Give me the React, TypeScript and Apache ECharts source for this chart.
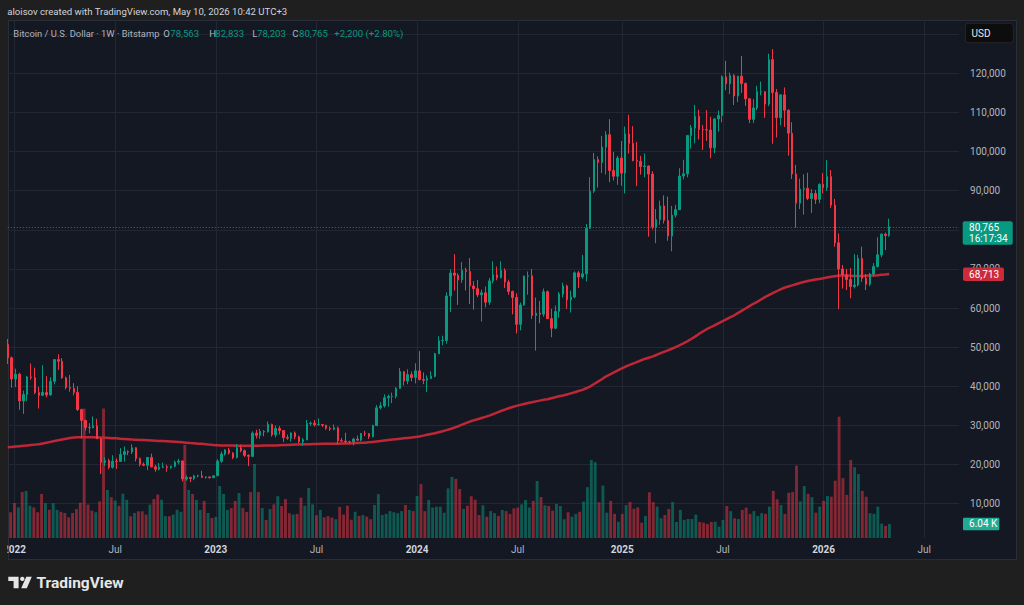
import React, { useEffect, useRef } from "react";
import * as echarts from "echarts";

// ---------- axis / category setup ----------
const FIRST_WEEK = "2021-12-27"; // first (partially visible) weekly bar
const AXIS_WEEKS = 246; // weekly slots on the time axis (bars + empty right margin)

// ---------- weekly candles [open, high, low, close] (BTC/USD Bitstamp) ----------
const candles2021 = [[50700, 52100, 45700, 47300]];

const candles2022 = [
  [47300, 47600, 39650, 41870], [41870, 44500, 39800, 43100], [43100, 43500, 34000, 36280],
  [36280, 38900, 32950, 37920], [37920, 42650, 36300, 42410], [42410, 45850, 41700, 42200],
  [42200, 44750, 38000, 38400], [38400, 39850, 34320, 37710], [37710, 45400, 37500, 38420],
  [38420, 42600, 37160, 37800], [37800, 42300, 37600, 41280], [41280, 46900, 40500, 46830],
  [46830, 48200, 44200, 46410], [46410, 47200, 41900, 42160], [42160, 42450, 39200, 39700],
  [39700, 42900, 38600, 39460], [39460, 40800, 37700, 38480], [38480, 40000, 33700, 34060],
  [34060, 34250, 26700, 31300], [31300, 31300, 28650, 29450], [29450, 30600, 28000, 29440],
  [29440, 32300, 29300, 29900], [29900, 31700, 26550, 26600], [26600, 26800, 17600, 20550],
  [20550, 21900, 19650, 21030], [21030, 21500, 18800, 19300], [19300, 22400, 19000, 20850],
  [20850, 21600, 18900, 20800], [20800, 24200, 20750, 22600], [22600, 24650, 20750, 23300],
  [23300, 23650, 22400, 23200], [23200, 25200, 22700, 24300], [24300, 24450, 20800, 21530],
  [21530, 21800, 19550, 20040], [20040, 20550, 19600, 19800], [19800, 21850, 18550, 21830],
  [21830, 22800, 19300, 19420], [19420, 19950, 18150, 18800], [18800, 20400, 18500, 19310],
  [19310, 20480, 19100, 19420], [19420, 19950, 18150, 19270], [19270, 19700, 18900, 19570],
  [19570, 21000, 19250, 20630], [20630, 21480, 20050, 20920], [20920, 21100, 15650, 16330],
  [16330, 17200, 15900, 16700], [16700, 16900, 15500, 16450], [16450, 17400, 16000, 17100],
  [17100, 17400, 16700, 17120], [17120, 18400, 16550, 16750], [16750, 17000, 16350, 16840],
  [16840, 16950, 16450, 16620],
];

const candles2023 = [
  [16620, 17180, 16600, 17130], [17130, 21400, 17100, 20870], [20870, 23350, 20400, 22700],
  [22700, 23950, 22300, 23750], [23750, 24250, 22550, 22950], [22950, 23150, 21400, 21800],
  [21800, 25250, 21550, 24300], [24300, 25100, 23150, 23550], [23550, 23900, 21950, 22350],
  [22350, 22600, 19600, 22100], [22100, 28500, 21900, 28050], [28050, 28900, 26650, 27480],
  [27480, 29100, 26600, 28450], [28450, 28800, 27250, 28330], [28330, 31000, 28200, 30300],
  [30300, 30450, 27150, 27600], [27600, 30000, 26950, 29250], [29250, 29850, 27700, 28700],
  [28700, 28800, 25800, 26900], [26900, 27650, 26350, 26750], [26750, 28250, 25900, 28070],
  [28070, 28450, 26500, 27100], [27100, 27400, 25400, 25850], [25850, 26800, 24800, 26340],
  [26340, 31400, 26250, 30480], [30480, 31000, 29900, 30600], [30600, 31400, 29700, 30170],
  [30170, 31800, 29950, 30250], [30250, 30350, 29600, 30080], [30080, 30100, 28900, 29280],
  [29280, 29700, 28600, 29050], [29050, 30250, 28750, 29400], [29400, 29700, 25200, 26100],
  [26100, 26800, 25800, 26000], [26000, 28150, 25350, 25850], [25850, 26100, 25400, 25830],
  [25830, 26850, 24900, 26530], [26530, 27450, 26000, 26250], [26250, 28050, 26000, 27970],
  [27970, 28600, 27250, 27920], [27920, 27950, 26550, 27150], [27150, 30200, 26950, 29950],
  [29950, 35200, 29900, 34500], [34500, 35950, 34100, 35000], [35000, 37950, 34550, 37050],
  [37050, 37900, 34800, 37400], [37400, 38400, 35700, 37450], [37450, 39800, 36900, 39450],
  [39450, 44700, 39400, 43780], [43780, 43800, 40200, 41370], [41370, 44350, 40550, 42990],
  [42990, 43800, 41300, 42250],
];

const candles2024 = [
  [42250, 45900, 40750, 43950], [43950, 49000, 41500, 41750], [41750, 43550, 40550, 41560],
  [41560, 42800, 38500, 42030], [42030, 43850, 41850, 42580], [42580, 48550, 42300, 48300],
  [48300, 52800, 48250, 51650], [51650, 52950, 50500, 51730], [51730, 64000, 50900, 63100],
  [63100, 69900, 59000, 68950], [68950, 73800, 64500, 68400], [68400, 68900, 60800, 67200],
  [67200, 71750, 66450, 69650], [69650, 70300, 64500, 69350], [69350, 72800, 61000, 65650],
  [65650, 66900, 59600, 64950], [64950, 67200, 62800, 63400], [63400, 64700, 56550, 63900],
  [63900, 65500, 60200, 61500], [61500, 67700, 60800, 66950], [66950, 71950, 66300, 68500],
  [68500, 70600, 67100, 67750], [67750, 71950, 67600, 69650], [69650, 70150, 65100, 66650],
  [66650, 67250, 63400, 64250], [64250, 64500, 58400, 62700], [62700, 63800, 53500, 55850],
  [55850, 61400, 54300, 60800], [60800, 68350, 60600, 68150], [68150, 69350, 63400, 68250],
  [68250, 70000, 57200, 58100], [58100, 62700, 49100, 58700], [58700, 61800, 56100, 58450],
  [58450, 65000, 57800, 64200], [64200, 64500, 57200, 57300], [57300, 59800, 52550, 54850],
  [54850, 60650, 54600, 59150], [59150, 64100, 57500, 63600], [63600, 66500, 62700, 65650],
  [65650, 66000, 59800, 62100], [62100, 64450, 58900, 62850], [62850, 69400, 62450, 69000],
  [69000, 69500, 65100, 67950], [67950, 73600, 67500, 68750], [68750, 81500, 66800, 80400],
  [80400, 93450, 80200, 89850], [89850, 99650, 89400, 97950], [97950, 98800, 90800, 97200],
  [97200, 104000, 94500, 101150], [101150, 105250, 94150, 104300], [104300, 108300, 92200, 95150],
  [95150, 99900, 92600, 93700], [93700, 98900, 91500, 98350],
];

const candles2025 = [
  [98350, 102700, 91250, 94500], [94500, 106400, 89300, 104500], [104500, 109400, 99500, 102100],
  [102100, 106500, 97500, 97700], [97700, 102500, 91200, 97500], [97500, 98900, 94100, 96150],
  [96150, 99500, 93400, 96300], [96300, 96500, 78250, 94250], [94250, 95000, 80100, 80700],
  [80700, 85300, 76600, 82600], [82600, 87450, 81300, 86100], [86100, 88800, 81600, 82400],
  [82400, 88500, 77200, 78400], [78400, 86100, 74500, 83750], [83750, 86400, 83150, 85150],
  [85150, 95750, 85100, 93750], [93750, 97900, 92900, 94300], [94300, 104150, 93400, 104100],
  [104100, 106800, 100800, 106050], [106050, 111950, 102100, 109000], [109000, 110700, 103100, 105650],
  [105650, 106800, 100400, 105600], [105600, 110600, 102700, 105500], [105500, 108900, 98300, 100950],
  [100950, 108500, 99600, 108350], [108350, 110500, 105100, 109200], [109200, 119500, 107500, 119100],
  [119100, 123200, 115700, 117300], [117300, 120200, 114700, 119450], [119450, 119800, 111900, 114200],
  [114200, 119300, 112650, 119300], [119300, 124450, 115000, 117400], [117400, 117650, 111700, 113500],
  [113500, 113500, 107300, 108250], [108250, 113400, 107300, 111150], [111150, 116800, 110600, 115300],
  [115300, 117900, 114400, 115300], [115300, 115400, 108600, 112150], [112150, 125000, 111600, 123500],
  [123500, 126200, 102000, 115100], [115100, 116000, 103600, 108650], [108650, 114000, 106700, 114500],
  [114500, 116400, 106300, 110550], [110550, 110800, 98950, 104700], [104700, 107500, 93000, 94250],
  [94250, 96600, 80550, 86800], [86800, 93100, 85300, 90400], [90400, 94200, 83900, 90600],
  [90600, 94600, 87600, 88000], [88000, 90400, 84300, 89300], [89300, 90200, 86600, 87800],
  [87800, 91900, 86800, 91600],
];

const candles2026 = [
  [91600, 94500, 89300, 90800], [90800, 97800, 90000, 93600], [93600, 95300, 85600, 86300],
  [86300, 87900, 75700, 76700], [76700, 79100, 59700, 70000], [70000, 71000, 65000, 68500],
  [68500, 70000, 64600, 67300], [67300, 70200, 62500, 65500], [65500, 73800, 65000, 65900],
  [65900, 73600, 65500, 72700], [72700, 75700, 66700, 67600], [67600, 68700, 64600, 66100],
  [66100, 69000, 65600, 68700], [68700, 71500, 68000, 70600], [70600, 78100, 70400, 73600],
  [73600, 79100, 73000, 78900], [78900, 79300, 74800, 78565], [78563, 82833, 78203, 80765],
];

// ---------- weekly volume (thousands of BTC) ----------
const volume2021 = [11.1];
const volume2022 = [
  15.1, 13.2, 19.8, 20.3, 13.9, 13.2, 11.1, 19.0, 15.0, 12.2, 15.0, 12.1, 11.3, 10.8, 8.9, 10.8,
  12.5, 15.2, 55.8, 14.4, 11.8, 11.1, 15.8, 55.8, 20.7, 17.6, 16.1, 13.9, 19.1, 16.5, 9.4, 10.8,
  11.5, 11.5, 10.1, 14.4, 16.8, 18.7, 16.5, 9.4, 9.4, 10.1, 12.2, 11.3, 40.2, 20.7, 19.0, 16.4,
  12.1, 16.0, 10.8, 8.6,
];
const volume2023 = [
  9.1, 22.4, 19.0, 12.1, 12.9, 16.0, 19.4, 12.9, 11.2, 19.8, 31.9, 19.8, 12.9, 7.8, 12.5, 14.5,
  18.0, 13.8, 16.8, 10.7, 10.1, 10.4, 17.4, 13.9, 21.6, 14.5, 9.8, 12.1, 8.9, 9.4, 8.8, 8.1,
  13.4, 10.1, 13.9, 7.9, 11.3, 9.5, 9.9, 9.2, 8.1, 14.2, 18.9, 9.9, 10.4, 11.6, 11.1, 10.7,
  11.6, 14.2, 12.1, 11.6,
];
const volume2024 = [
  18.1, 23.3, 11.6, 16.4, 13.1, 13.5, 13.5, 10.9, 21.4, 26.3, 25.5, 21.1, 12.5, 13.9, 18.0, 16.5,
  9.9, 14.1, 9.2, 11.6, 10.7, 9.5, 12.1, 11.6, 10.4, 12.8, 13.1, 14.5, 16.4, 13.1, 16.0, 24.6,
  17.7, 14.1, 13.8, 11.8, 14.7, 13.8, 8.1, 11.1, 9.2, 10.4, 11.3, 15.7, 21.9, 33.6, 32.7, 15.4,
  22.6, 10.9, 16.0, 10.4, 7.0,
];
const volume2025 = [
  10.4, 14.2, 15.5, 12.6, 13.2, 6.6, 9.5, 19.7, 15.5, 13.5, 8.5, 9.9, 12.5, 15.5, 6.9, 12.1,
  7.8, 8.2, 8.2, 10.1, 6.9, 6.6, 6.0, 6.9, 7.0, 4.9, 7.8, 13.8, 11.6, 8.5, 8.2, 12.1,
  13.1, 10.4, 11.6, 9.5, 10.7, 10.4, 13.5, 20.3, 16.7, 14.2, 10.4, 19.5, 19.8, 31.2, 15.8, 22.4,
  19.0, 17.6, 10.9, 13.5,
];
const volume2026 = [
  16.0, 18.1, 17.8, 24.7, 52.3, 25.8, 18.6, 33.6, 30.5, 27.6, 20.3, 17.8, 10.7, 10.4, 13.5, 6.2,
  5.2, 6.04,
];

// ---------- 200-week moving average ----------
const ma2021 = [24400];
const ma2022 = [
  24500, 24600, 24700, 24800, 24900, 25000, 25100, 25200, 25400, 25600, 25800, 26000, 26200, 26400,
  26600, 26800, 26900, 27000, 27000, 27000, 27000, 27000, 26950, 26900, 26850, 26800, 26750, 26700,
  26600, 26550, 26500, 26400, 26350, 26300, 26250, 26200, 26150, 26100, 26050, 26000, 25950, 25900,
  25850, 25800, 25700, 25600, 25500, 25450, 25350, 25300, 25200, 25100,
];
const ma2023 = [
  25000, 24950, 24900, 24900, 24850, 24850, 24800, 24800, 24800, 24800, 24800, 24800, 24800, 24850,
  24850, 24900, 24900, 24950, 25000, 25000, 25050, 25100, 25150, 25200, 25200, 25200, 25250, 25250,
  25300, 25300, 25300, 25350, 25350, 25400, 25400, 25400, 25450, 25500, 25550, 25600, 25700, 25800,
  25900, 26000, 26150, 26300, 26400, 26500, 26600, 26700, 26800, 26900,
];
const ma2024 = [
  27050, 27200, 27400, 27600, 27800, 28000, 28250, 28500, 28800, 29100, 29450, 29800, 30200, 30600,
  31000, 31300, 31600, 31900, 32200, 32500, 32900, 33300, 33700, 34050, 34400, 34700, 35000, 35250,
  35500, 35750, 35950, 36150, 36350, 36550, 36700, 36950, 37200, 37450, 37650, 37900, 38200, 38500,
  38800, 39100, 39500, 40000, 40600, 41200, 41800, 42500, 43000, 43500, 44000,
];
const ma2025 = [
  44500, 45000, 45400, 45800, 46200, 46600, 47000, 47300, 47600, 48000, 48400, 48800, 49200, 49600,
  50000, 50500, 51000, 51500, 52100, 52700, 53400, 54000, 54600, 55100, 55600, 56100, 56600, 57100,
  57600, 58100, 58700, 59300, 59900, 60500, 61100, 61600, 62200, 62800, 63300, 63800, 64300, 64800,
  65200, 65500, 65800, 66100, 66400, 66650, 66900, 67100, 67300, 67450,
];
const ma2026 = [
  67600, 67800, 68000, 68150, 68300, 68300, 68300, 68250, 68200, 68200, 68200, 68250, 68300, 68350,
  68400, 68500, 68600, 68713,
];

// ---------- header texts ----------
const HEADER = "aloisov created with TradingView.com, May 10, 2026 10:42 UTC+3";
const SYMBOL = "Bitcoin / U.S. Dollar · 1W · Bitstamp";
const OHLC_LABELS = ["O", "H", "L", "C"];
const OHLC_VALUES = ["78,563", "82,833", "78,203", "80,765"];
const CHANGE_TEXT = "+2,200 (+2.80%)";
const LAST_TIME = "16:17:34";

// ---------- colours ----------
const OUTER_BG = "#1f1f1f";
const PANEL_BG = "#141823";
const GRID_LINE = "#232733";
const UP = "#089981";
const DOWN = "#f23645";
const UP_VOL = "rgba(8,153,129,0.5)";
const DOWN_VOL = "rgba(242,54,69,0.5)";
const MA_COLOR = "#bf2737";
const MA_LABEL = "#cc2b3b";
const AXIS_TEXT = "#b2b5be";
const FONT = 'Roboto, "Liberation Sans", Arial, sans-serif';

const candles = [...candles2021, ...candles2022, ...candles2023, ...candles2024, ...candles2025, ...candles2026];
const volumes = [...volume2021, ...volume2022, ...volume2023, ...volume2024, ...volume2025, ...volume2026];
const ma200 = [...ma2021, ...ma2022, ...ma2023, ...ma2024, ...ma2025, ...ma2026];

function buildWeeks(start: string, n: number): string[] {
  const t0 = Date.parse(start + "T00:00:00Z");
  const out: string[] = [];
  for (let i = 0; i < n; i++) out.push(new Date(t0 + i * 7 * 86400000).toISOString().slice(0, 10));
  return out;
}
const weeks = buildWeeks(FIRST_WEEK, AXIS_WEEKS);
const monthOf = (s: string) => Number(s.slice(5, 7)) - 1;
const isPeriodStart = (idx: number) =>
  idx > 0 && monthOf(weeks[idx]) !== monthOf(weeks[idx - 1]) && (monthOf(weeks[idx]) === 0 || monthOf(weeks[idx]) === 6);

export default function App() {
  const ref = useRef<HTMLDivElement>(null);

  useEffect(() => {
    if (!ref.current) return;
    const chart = echarts.init(ref.current, null, { renderer: "svg" });

    const candleData = candles.map(([o, h, l, c]) => [o, c, l, h]);
    const volData = volumes.map((v, i) => ({
      value: v,
      itemStyle: { color: candles[i][3] >= candles[i][0] ? UP_VOL : DOWN_VOL },
    }));
    const last = candles[candles.length - 1];
    const lastTick = Math.round(last[3] / 10000) * 10000; // tick hidden behind the last-price box

    chart.setOption({
      animation: false,
      backgroundColor: "transparent",
      textStyle: { fontFamily: FONT },
      grid: [
        { left: 7.8, right: 64.9, top: 34.2, bottom: 101.3 },
        { left: 7.8, right: 64.9, top: 20, bottom: 67 },
      ],
      xAxis: [
        { type: "category", gridIndex: 0, data: weeks, boundaryGap: false, show: false },
        {
          type: "category",
          gridIndex: 1,
          data: weeks,
          boundaryGap: false,
          axisLine: { show: false },
          axisTick: { show: false },
          axisLabel: {
            interval: (idx: number) => isPeriodStart(idx),
            margin: 6,
            formatter: (v: string) => (monthOf(v) === 0 ? `{y|${v.slice(0, 4)}}` : "{m|Jul}"),
            rich: {
              y: { fontWeight: "bold", color: "#d1d4dc", fontSize: 10, fontFamily: FONT },
              m: { color: AXIS_TEXT, fontSize: 10, fontFamily: FONT },
            },
          },
          splitLine: { show: true, interval: (idx: number) => isPeriodStart(idx), lineStyle: { color: GRID_LINE, width: 1 } },
        },
      ],
      yAxis: [
        {
          type: "value",
          gridIndex: 0,
          position: "right",
          min: 10000,
          max: 130000,
          interval: 10000,
          axisLine: { show: false },
          axisTick: { show: false },
          axisLabel: {
            color: AXIS_TEXT,
            fontSize: 10,
            fontFamily: FONT,
            margin: 11,
            formatter: (v: number) => (v >= 130000 || v === lastTick ? "" : v.toLocaleString("en-US")),
          },
          splitLine: { show: true, lineStyle: { color: GRID_LINE, width: 1 } },
        },
        { type: "value", gridIndex: 1, min: 0, max: 223.3, show: false, splitLine: { show: false } },
      ],
      series: [
        {
          type: "bar",
          name: "Volume",
          xAxisIndex: 1,
          yAxisIndex: 1,
          data: volData,
          barWidth: 2.9,
          z: 1,
        },
        {
          type: "line",
          name: "MA 200",
          xAxisIndex: 0,
          yAxisIndex: 0,
          data: ma200,
          showSymbol: false,
          symbol: "none",
          lineStyle: { color: MA_COLOR, width: 2.5 },
          z: 3,
        },
        {
          type: "candlestick",
          name: "BTCUSD",
          xAxisIndex: 0,
          yAxisIndex: 0,
          data: candleData,
          barWidth: 2,
          itemStyle: { color: UP, color0: DOWN, borderColor: UP, borderColor0: DOWN, borderWidth: 1 },
          z: 4,
          markLine: {
            silent: true,
            symbol: "none",
            label: { show: false },
            lineStyle: { color: UP, type: [1, 2], width: 1, opacity: 0.9 },
            data: [{ yAxis: last[3] }],
          },
        },
      ],
    });

    const yLast = chart.convertToPixel({ yAxisIndex: 0 }, last[3]) as number;
    const yMa = chart.convertToPixel({ yAxisIndex: 0 }, ma200[ma200.length - 1]) as number;
    const yVol = chart.convertToPixel({ yAxisIndex: 1 }, volumes[volumes.length - 1]) as number;
    const xEdge = 959.1;

    const text = (x: number, y: number, t: string, fill: string, size = 10, weight: any = "normal", extra: any = {}) => ({
      type: "text",
      x,
      y,
      z: 60,
      style: { text: t, fill, fontSize: size, fontWeight: weight, fontFamily: FONT, align: "left", verticalAlign: "middle", ...extra },
    });
    const box = (x: number, y: number, w: number, h: number, fill: string, r = 2, stroke?: string) => ({
      type: "rect",
      x,
      y,
      z: 55,
      shape: { x: 0, y: 0, width: w, height: h, r },
      style: stroke ? { fill, stroke, lineWidth: 1 } : { fill },
    });

    const ohlcX = [[163.3, 170.3], [209.3, 215.3], [252.3, 257], [292.3, 299]];
    const elements: any[] = [
      text(7.3, 11.7, HEADER, "#d1d4dc", 9.6),
      text(13.3, 33.3, SYMBOL, "#b2b5be", 9.4),
      ...OHLC_LABELS.flatMap((lab, i) => [
        text(ohlcX[i][0], 33.3, lab, "#b2b5be", 9.6),
        text(ohlcX[i][1], 33.3, OHLC_VALUES[i], UP, 9.6),
      ]),
      text(334.3, 33.3, CHANGE_TEXT, UP, 9.6),
      // USD button
      box(965.3, 23.3, 48, 19.4, "#0d0d0d", 3, "#262626"),
      text(971.5, 33.2, "USD", "#e6e8ee"),
      // last price label (price + countdown, two lines)
      box(xEdge + 3.6, yLast - 5.6, 50, 23.4, UP, 2),
      {
        type: "text",
        x: xEdge + 10,
        y: yLast - 5.2,
        z: 60,
        style: {
          text: OHLC_VALUES[3] + "\n" + LAST_TIME,
          fill: "#ffffff",
          fontSize: 10,
          fontFamily: FONT,
          lineHeight: 11,
          align: "left",
          verticalAlign: "top",
        },
      },
      // MA label
      box(xEdge + 3.9, yMa - 6.4, 41, 13.4, MA_LABEL, 2),
      text(xEdge + 10, yMa + 0.4, ma200[ma200.length - 1].toLocaleString("en-US"), "#ffffff"),
      // volume label
      box(xEdge + 3.9, yVol - 6.2, 36.3, 12.4, "#22ab94", 1),
      text(xEdge + 10, yVol, volumes[volumes.length - 1].toFixed(2) + " K", "#ffffff"),
      // cover the time-axis overhang left of the panel
      box(0, 540, 7.4, 22, OUTER_BG, 0),
      // TradingView logo
      { type: "polygon", z: 60, shape: { points: [[8.3, 576.7], [18.6, 576.7], [18.6, 588.3], [13.6, 588.3], [13.6, 581], [8.3, 581]] }, style: { fill: "#e6e6e6" } },
      { type: "circle", z: 60, shape: { cx: 22.3, cy: 578.9, r: 2.2 }, style: { fill: "#e6e6e6" } },
      { type: "polygon", z: 60, shape: { points: [[26.3, 576.7], [31.8, 576.7], [26.8, 588.3], [21.2, 588.3]] }, style: { fill: "#e6e6e6" } },
      text(36.5, 583, "TradingView", "#e6e6e6", 15.5, "bold"),
    ];
    chart.setOption({ graphic: { elements } });

    return () => chart.dispose();
  }, []);

  return (
    <div style={{ position: "fixed", left: 0, top: 0, width: 1024, height: 605, background: OUTER_BG, overflow: "hidden" }}>
      <div
        style={{
          position: "absolute",
          left: 7.5,
          top: 19.5,
          width: 1009,
          height: 540,
          background: PANEL_BG,
          border: "1px solid #2a2e39",
          boxSizing: "border-box",
        }}
      />
      <div ref={ref} style={{ position: "absolute", left: 0, top: 0, width: 1024, height: 605 }} />
    </div>
  );
}
